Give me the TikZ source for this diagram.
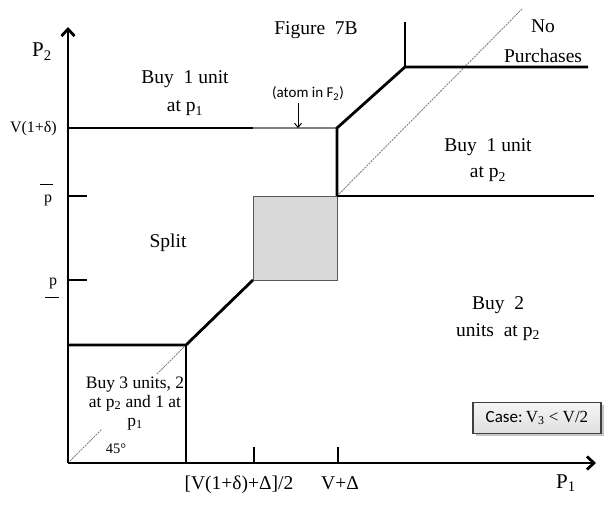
\documentclass[tikz,border=0pt]{standalone}
\usepackage{fontspec}
\setmainfont{Liberation Serif}
\newfontfamily\calfont{Carlito}
\usetikzlibrary{arrows.meta,shadows}
\begin{document}
\begin{tikzpicture}[x=1pt,y=-1pt,
  bold/.style={line width=2.8pt, line join=miter, line cap=butt},
  axisline/.style={line width=2.8pt, -{Straight Barb[length=7pt,width=13pt,line width=2.8pt]}},
  tickline/.style={line width=1.3pt},
  diagline/.style={gray, line width=0.9pt, dash pattern=on 2pt off 1pt},
  lbl/.style={font=\fontsize{19.5}{22}\selectfont, inner sep=0pt, anchor=base},
  small/.style={font=\fontsize{16}{18}\selectfont, inner sep=0pt, anchor=base},
  boxtxt/.style={font=\fontsize{17.5}{19}\selectfont, inner sep=0pt, anchor=base},
  axlbl/.style={font=\fontsize{21}{24}\selectfont, inner sep=0pt, anchor=base}]
\useasboundingbox (0,0) rectangle (608,508);
% key points
\coordinate (O) at (68,463);
\coordinate (Ytop) at (68,27);
\coordinate (Xend) at (596,463);
\coordinate (H1) at (68,128);
\coordinate (H1b) at (253,128);
\coordinate (K1) at (337,128);
\coordinate (K2) at (405,67);
\coordinate (K2top) at (405,22);
\coordinate (K2r) at (588,67);
\coordinate (S1) at (253,196);
\coordinate (S2) at (337,196);
\coordinate (S3) at (337,280);
\coordinate (S4) at (253,280);
\coordinate (Pr) at (594,196);
\coordinate (B1) at (186,345);
\coordinate (B0) at (68,345);
\coordinate (B2) at (186,463);
\coordinate (D1) at (102,429);
\coordinate (D2) at (157,374);
\coordinate (D3) at (522,9);
% 45 degree dashed line
\draw[diagline] (O) -- (D1);
\draw[diagline] (D2) -- (B1);
\draw[diagline] (S2) -- (D3);
% grey square
\draw[fill=gray!30, draw=gray!70!black, line width=0.8pt] (S1) rectangle (S3);
% boundaries
\draw[bold] (H1) -- (H1b);
\draw[gray, line width=2pt] (H1b) -- (K1);
\draw[bold] (S2) -- (K1) -- (K2) -- (K2r);
\draw[bold] (K2) -- (K2top);
\draw[bold] (S2) -- (Pr);
\draw[bold] (S4) -- (B1) -- (B0);
\draw[bold] (B1) -- (B2);
% ticks
\coordinate (T1) at (87,196);
\coordinate (T1a) at (68,196);
\coordinate (T2) at (87,280);
\coordinate (T2a) at (68,280);
\coordinate (T3) at (254,447);
\coordinate (T3a) at (254,463);
\coordinate (T4) at (338,447);
\coordinate (T4a) at (338,463);
\draw[tickline] (T1a) -- (T1);
\draw[tickline] (T2a) -- (T2);
\draw[tickline] (T3a) -- (T3);
\draw[tickline] (T4a) -- (T4);
% axes
\draw[axisline] (O) -- (Ytop);
\draw[axisline] (O) -- (Xend);
% axis labels
\node[axlbl] (p2ax) at (42,57) {P\textsubscript{2}};
\node[axlbl] (p1ax) at (566,488) {P\textsubscript{1}};
\node[small, anchor=base east] (vdel) at (57,133) {V(1+δ)};
\node[small] (pbar) at (48,202) {p};
\coordinate (pb1) at (40,185);
\coordinate (pb2) at (53,185);
\draw[line width=1pt] (pb1) -- (pb2);
\node[small] (pund) at (53,285) {p};
\coordinate (pu1) at (45,297);
\coordinate (pu2) at (59,297);
\draw[line width=1pt] (pu1) -- (pu2);
\node[lbl] (xl1) at (239,489) {[V(1+δ)+Δ]/2};
\node[lbl] (xl2) at (340,489) {V+Δ};
% region labels
\node[lbl] (fig) at (316,35) {Figure\ \ 7B};
\node[lbl] (no) at (543,33) {No};
\node[lbl] (purch) at (543,63) {Purchases};
\node[lbl] (b1a) at (185,84) {Buy\ \ 1 unit};
\node[lbl] (b1b) at (185,112) {at p\textsubscript{1}};
\node[lbl] (b2a) at (488,152) {Buy\ \ 1 unit};
\node[lbl] (b2b) at (488,178) {at p\textsubscript{2}};
\node[lbl] (split) at (168,247) {Split};
\node[lbl] (c2a) at (498,309) {Buy\ \ 2};
\node[lbl] (c2b) at (498,336) {units\ \ at p\textsubscript{2}};
\node[boxtxt] (c3a) at (135,388) {Buy 3 units, 2};
\node[boxtxt] (c3b) at (135,407) {at p\textsubscript{2} and 1 at};
\node[boxtxt] (c3c) at (135,426) {p\textsubscript{1}};
\node[font=\fontsize{14.5}{16}\selectfont, inner sep=0pt, anchor=base] (deg) at (116,453) {45°};
% atom label
\node[font=\calfont\fontsize{15}{17}\selectfont, inner sep=0pt, anchor=base] (atom) at (308,98) {(atom in F\textsubscript{2})};
\coordinate (atomtip) at (298,128);
\coordinate (atomtail) at (298,103);
\draw[line width=1pt, -{Straight Barb[length=4pt,width=7pt]}] (atomtail) -- (atomtip);
% case box
\node[draw=black!75, line width=1.3pt, top color=gray!8, bottom color=gray!25, minimum width=128pt, minimum height=31pt, inner sep=0pt,
  drop shadow={shadow xshift=2.5pt, shadow yshift=-2.5pt, opacity=0.45, fill=gray}] (case) at (537,418)
  {{\calfont\fontsize{17}{19}\selectfont Case:} {\fontsize{17}{19}\selectfont V\textsubscript{3} < V/2}};
\end{tikzpicture}
\end{document}
